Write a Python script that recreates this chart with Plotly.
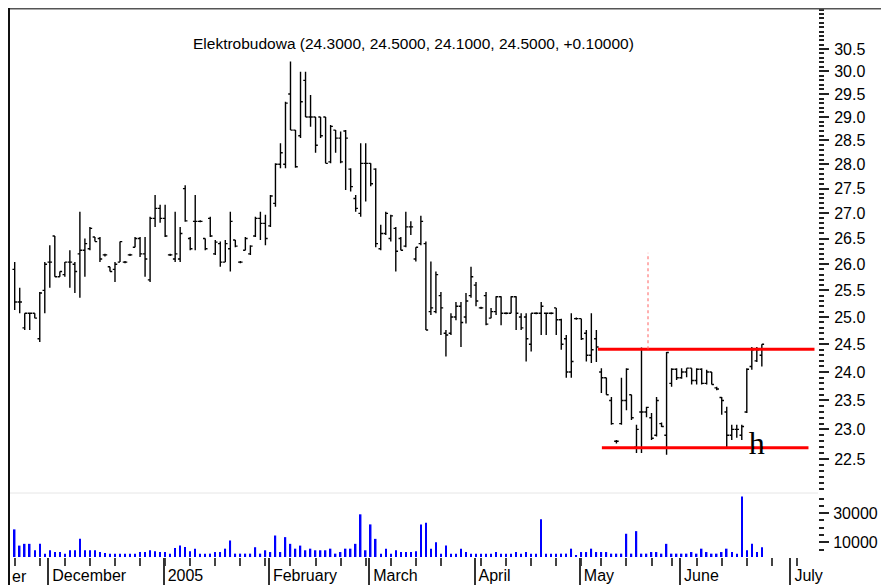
import pandas as pd
import plotly.graph_objects as go

# ---------------- data ----------------
opens = [25.9, 25.28, 24.8, 25.07, 25.07, 24.6, 25.5, 26.04, 26.55, 25.76,
         25.8, 26.04, 26.0, 26.2, 26.27, 26.3, 26.53, 26.5, 26.18, 25.95,
         25.9, 26.04, 26.04, 26.18, 26.33, 26.5, 26.2, 25.7, 26.9, 27.1,
         26.9, 26.18, 26.1, 26.1, 27.5, 26.5, 26.84, 26.84, 26.5, 26.9,
         26.2, 26.4, 26.04, 26.3, 26.47, 26.04, 26.27, 26.2, 26.55, 26.9,
         26.8, 26.75, 27.2, 28.0, 28.0, 29.5, 28.72, 28.6, 29.8, 29.0,
         29.0, 29.0, 29.0, 28.05, 28.72, 28.55, 28.7, 27.9, 27.3, 27.0,
         28.02, 28.02, 27.9, 26.3, 26.6, 26.5, 26.7, 26.5, 26.35, 26.73,
         26.1, 26.4, 26.4, 25.1, 25.1, 25.4, 24.7, 24.7, 25.0, 25.2,
         25.0, 25.4, 25.6, 25.17, 25.4, 24.98, 25.1, 25.38, 25.07, 25.07,
         25.38, 25.0, 25.0, 24.5, 25.07, 25.07, 25.07, 25.07, 25.17, 24.95,
         24.6, 24.0, 24.97, 24.97, 24.7, 24.3, 24.6, 24.0, 23.9, 23.5,
         22.8, 23.1, 23.5, 23.6, 22.7, 23.3, 23.3, 23.2, 22.9, 23.1,
         22.9, 23.8, 24.05, 23.9, 24.0, 24.07, 23.85, 24.05, 23.8, 24.0,
         23.72, 23.55, 23.3, 22.9, 23.0, 22.9, 23.3, 24.1, 24.2, 24.3]
highs = [26.04, 25.55, 25.07, 25.07, 25.07, 25.47, 26.04, 26.37, 26.55, 25.86,
         26.04, 26.27, 26.04, 27.03, 26.5, 26.73, 26.53, 26.53, 26.2, 25.95,
         26.04, 26.44, 26.06, 26.2, 26.53, 26.53, 26.53, 26.93, 27.37, 27.17,
         27.17, 26.2, 27.03, 26.73, 27.57, 26.53, 27.37, 26.86, 26.5, 26.93,
         26.47, 26.44, 26.47, 27.03, 26.47, 26.06, 26.53, 26.37, 26.93, 27.03,
         26.97, 27.37, 28.02, 28.44, 29.33, 30.22, 28.72, 29.99, 29.99, 29.48,
         29.0, 29.0, 29.0, 28.83, 28.72, 28.69, 28.72, 27.92, 27.37, 28.44,
         28.44, 28.02, 27.92, 26.77, 27.03, 26.97, 26.73, 26.53, 27.03, 26.84,
         26.33, 26.95, 26.44, 26.05, 25.86, 25.47, 24.76, 25.07, 25.28, 25.28,
         25.45, 25.95, 25.66, 25.19, 25.47, 25.17, 25.39, 25.39, 25.09, 25.39,
         25.39, 25.07, 25.07, 25.07, 25.09, 25.28, 25.07, 25.09, 25.17, 24.97,
         24.67, 25.07, 24.99, 24.97, 24.76, 25.07, 24.76, 24.07, 23.9, 23.56,
         22.82, 23.9, 24.07, 23.6, 23.08, 24.44, 23.39, 23.28, 23.56, 23.12,
         24.36, 24.07, 24.07, 24.07, 24.07, 24.07, 24.07, 24.07, 24.04, 24.0,
         23.74, 23.56, 23.39, 23.08, 23.08, 23.08, 24.07, 24.45, 24.45, 24.5]
lows = [25.13, 25.07, 24.76, 24.76, 24.98, 24.54, 25.07, 25.55, 25.76, 25.76,
        25.76, 25.55, 25.45, 25.36, 25.76, 26.27, 26.44, 26.04, 26.15, 25.86,
        25.66, 26.04, 26.02, 26.16, 26.33, 26.14, 25.76, 25.66, 26.73, 26.81,
        26.53, 26.16, 26.04, 26.04, 26.83, 26.27, 26.27, 26.82, 26.27, 26.53,
        26.18, 25.95, 26.04, 25.86, 26.33, 26.02, 26.27, 26.18, 26.53, 26.47,
        26.37, 26.73, 27.13, 27.92, 27.92, 28.72, 27.93, 28.55, 29.0, 28.79,
        28.24, 28.55, 28.02, 28.02, 28.24, 28.02, 27.47, 27.44, 27.03, 26.93,
        27.24, 27.55, 26.33, 26.27, 26.57, 26.44, 25.86, 26.27, 26.33, 26.57,
        26.05, 26.37, 24.76, 25.04, 25.07, 24.67, 24.28, 24.67, 24.94, 24.45,
        24.88, 25.36, 25.2, 25.15, 24.85, 24.98, 25.04, 24.85, 25.05, 25.07,
        24.76, 24.76, 24.19, 24.37, 25.05, 24.67, 24.67, 25.05, 24.67, 24.4,
        23.9, 23.9, 24.95, 24.58, 24.19, 24.16, 24.18, 23.63, 23.6, 23.08,
        22.76, 23.08, 23.33, 23.16, 22.6, 22.6, 23.21, 22.82, 22.88, 23.04,
        22.57, 23.74, 23.86, 23.88, 23.91, 23.78, 23.78, 23.78, 23.78, 23.78,
        23.68, 23.25, 22.7, 22.82, 22.86, 22.82, 23.28, 24.04, 24.18, 24.1]
closes = [25.28, 25.28, 25.07, 25.07, 24.98, 25.45, 26.0, 26.04, 25.76, 25.86,
          26.04, 26.04, 25.86, 26.27, 26.4, 26.7, 26.44, 26.1, 26.18, 25.86,
          26.0, 26.44, 26.04, 26.18, 26.5, 26.2, 26.1, 26.9, 27.1, 26.9,
          26.55, 26.18, 26.2, 26.6, 26.85, 26.3, 26.84, 26.84, 26.3, 26.55,
          26.43, 26.04, 26.4, 26.84, 26.35, 26.04, 26.5, 26.35, 26.9, 26.8,
          26.5, 27.35, 28.0, 28.24, 29.3, 28.72, 27.95, 29.33, 29.0, 29.0,
          28.4, 28.6, 28.02, 28.8, 28.55, 28.05, 28.55, 27.54, 27.1, 28.02,
          28.02, 27.6, 26.4, 26.6, 27.0, 26.95, 26.25, 26.27, 26.73, 26.73,
          26.33, 26.84, 24.76, 25.17, 25.8, 25.17, 24.67, 25.0, 25.2, 24.9,
          25.3, 25.76, 25.3, 25.17, 24.87, 25.1, 25.38, 25.07, 25.07, 25.38,
          25.07, 24.8, 24.6, 25.07, 25.07, 25.2, 25.07, 25.07, 24.95, 24.5,
          24.0, 24.19, 24.97, 24.6, 24.3, 24.4, 24.45, 23.9, 23.6, 23.1,
          22.8, 23.5, 24.05, 23.2, 23.0, 23.3, 23.38, 22.85, 23.5, 23.05,
          24.35, 24.05, 23.9, 24.0, 24.07, 23.85, 24.05, 23.8, 24.0, 23.78,
          23.7, 23.5, 22.9, 23.0, 23.0, 23.05, 24.05, 24.4, 24.4, 24.5]
volumes = [18900, 7800, 9000, 9000, 4600, 9000, 2300, 4600, 3400, 3400,
           2300, 4600, 4600, 12400, 4600, 4600, 4600, 3400, 2800, 2300,
           2300, 2300, 2300, 2300, 2300, 3400, 3400, 4600, 3900, 3400,
           3400, 2300, 6200, 7800, 6900, 3900, 5700, 2300, 2300, 2300,
           3400, 3400, 5700, 11300, 2300, 2300, 2300, 2300, 6700, 2300,
           4600, 3400, 14700, 3400, 13600, 9000, 5700, 7800, 4600, 5700,
           4600, 4600, 4600, 5700, 2300, 3400, 5700, 5700, 9000, 29200,
           4600, 22300, 12400, 2300, 5700, 2300, 4600, 3400, 3400, 3400,
           3900, 22300, 23500, 5700, 10100, 2300, 7800, 2300, 2300, 5700,
           3400, 2300, 2300, 2300, 2300, 2300, 3400, 2300, 2300, 2300,
           3400, 2300, 3400, 2300, 2300, 25800, 2300, 2300, 2300, 2300,
           2300, 5700, 1200, 3400, 3400, 5700, 3400, 3400, 3400, 2300,
           2300, 2300, 15900, 2300, 17700, 2300, 2300, 3400, 3400, 2300,
           9000, 2300, 2300, 2300, 2300, 3400, 2300, 5700, 3400, 2300,
           2300, 3400, 5700, 3400, 2300, 41400, 4600, 9000, 3400, 6700]

# trading calendar (Warsaw exchange holidays removed)
holidays = ["2005-03-25", "2005-03-28", "2005-05-03", "2005-05-26"]
month_starts = ["2004-12-01", "2005-01-01", "2005-02-01", "2005-03-01",
                "2005-04-01", "2005-05-01", "2005-06-01", "2005-07-01"]
month_labels = ["December", "2005", "February", "March", "April", "May", "June", "July"]

# drawn trend lines: (bar index start, bar index end, price)
resistance = (116.3, 159.5, 24.41)
support = (117.1, 158.3, 22.69)
marker_line = (126.3, 24.41, 26.22)
title_text = "Elektrobudowa (24.3000, 24.5000, 24.1000, 24.5000, +0.10000)"

# ---------------- build ----------------
cal = pd.bdate_range("2004-11-22", "2005-07-15")
cal = cal[~cal.isin(pd.to_datetime(holidays))]
n = len(closes)
xs = list(range(n))
month_idx = [int((cal >= pd.Timestamp(m)).argmax()) - 0.3 for m in month_starts]
monday_idx = [i for i, d in enumerate(cal) if d.weekday() == 0 and i < 161]

fig = go.Figure()
fig.add_trace(go.Ohlc(
    x=xs, open=opens, high=highs, low=lows, close=closes,
    increasing=dict(line=dict(color="black", width=1.4)),
    decreasing=dict(line=dict(color="black", width=1.4)),
    tickwidth=0.45, xaxis="x", yaxis="y", hoverinfo="skip", showlegend=False))

fig.add_trace(go.Bar(x=xs, y=volumes, marker=dict(color="#0000ff", line=dict(width=0)),
                     width=0.3, xaxis="x", yaxis="y2", hoverinfo="skip", showlegend=False))

for (a, b, p) in (resistance, support):
    fig.add_trace(go.Scatter(x=[a, b], y=[p, p], mode="lines",
                             line=dict(color="#ff0000", width=3),
                             xaxis="x", yaxis="y", hoverinfo="skip", showlegend=False))
fig.add_trace(go.Scatter(x=[marker_line[0], marker_line[0]], y=[marker_line[1], marker_line[2]],
                         mode="lines", line=dict(color="#ff6060", width=1, dash="dot"),
                         xaxis="x", yaxis="y", hoverinfo="skip", showlegend=False))
fig.add_trace(go.Scatter(x=[148.0], y=[22.72], mode="text", text=["h"],
                         textfont=dict(family="Liberation Serif", size=32, color="black"),
                         xaxis="x", yaxis="y", hoverinfo="skip", showlegend=False))

major_p = [22.0 + 0.5 * i for i in range(19)]
major_txt = ["" if (v < 22.4 or v > 30.6) else f"{v:.1f}" for v in major_p]
minor_p = [round(21.9 + 0.1 * i, 1) for i in range(96)]

# the page shows the figure 8px in from the top-left corner
W, H = 881, 577
L, R, T, B = 1, 71, 1, 28
pw = W - L - R
ph = H - T - B
price_bottom = (557 - 493) / ph
vol_top = (557 - 494) / ph

fig.update_layout(
    width=W, height=H,
    margin=dict(l=L, r=R, t=T, b=B),
    paper_bgcolor="white", plot_bgcolor="white",
    font=dict(family="Liberation Sans, Arial, sans-serif", size=16, color="black"),
    xaxis=dict(range=[-1.137, 160.2], anchor="y2", showgrid=False, zeroline=False,
               showline=False, rangeslider=dict(visible=False),
               tickmode="array", tickvals=month_idx, ticktext=month_labels,
               ticks="outside", ticklen=28, tickwidth=2, tickcolor="#333",
               ticklabelposition="outside right", ticklabelstandoff=4,
               ticklabelshift=3,
               tickfont=dict(size=16),
               minor=dict(tickmode="array", tickvals=monday_idx, ticks="outside",
                          ticklen=8, tickwidth=2, tickcolor="#444", showgrid=False)),
    yaxis=dict(type="log", domain=[price_bottom, 1], anchor="x", side="right",
               range=[1.34124, 1.49721], showgrid=False, zeroline=False, showline=False,
               tickmode="array", tickvals=major_p, ticktext=major_txt,
               ticks="outside", ticklen=10, tickwidth=2, tickcolor="#222",
               tickfont=dict(size=16), ticklabelstandoff=2,
               minor=dict(tickmode="array", tickvals=minor_p, ticks="outside",
                          ticklen=5, tickwidth=1.5, tickcolor="#222", showgrid=False)),
    yaxis2=dict(domain=[0, vol_top], anchor="x", side="right", range=[0, 43100],
                showgrid=False, zeroline=False, showline=False,
                tickmode="array", tickvals=[10000, 30000], ticktext=["10000", "30000"],
                ticks="outside", ticklen=10, tickwidth=2, tickcolor="#222",
                tickfont=dict(size=16), ticklabelstandoff=1,
                minor=dict(tickmode="array", tickvals=[5000 * i for i in range(1, 9)],
                           ticks="outside", ticklen=5, tickwidth=1.5, tickcolor="#222",
                           showgrid=False)),
    shapes=[
        dict(type="line", xref="paper", yref="paper", x0=0, x1=1,
             y0=price_bottom, y1=price_bottom, line=dict(color="#e6e6e6", width=1)),
        dict(type="line", xref="paper", yref="paper", x0=-L / pw, x1=(W - L) / pw,
             y0=1 + 0.5 / ph, y1=1 + 0.5 / ph, line=dict(color="#555", width=2)),
        dict(type="line", xref="paper", yref="paper", x0=0, x1=0,
             y0=-B / ph, y1=1 + T / ph, line=dict(color="#111", width=2)),
    ],
    annotations=[
        dict(text=title_text, xref="paper", yref="paper", x=0.5,
             y=(549 - 36) / ph, xanchor="center", yanchor="middle", showarrow=False,
             font=dict(size=15.5, color="black")),
        dict(text="er", xref="paper", yref="paper", x=1 / pw, y=(549 - 568) / ph,
             xanchor="left", yanchor="middle", showarrow=False, font=dict(size=16)),
    ],
)

fig.write_html("out.html")
